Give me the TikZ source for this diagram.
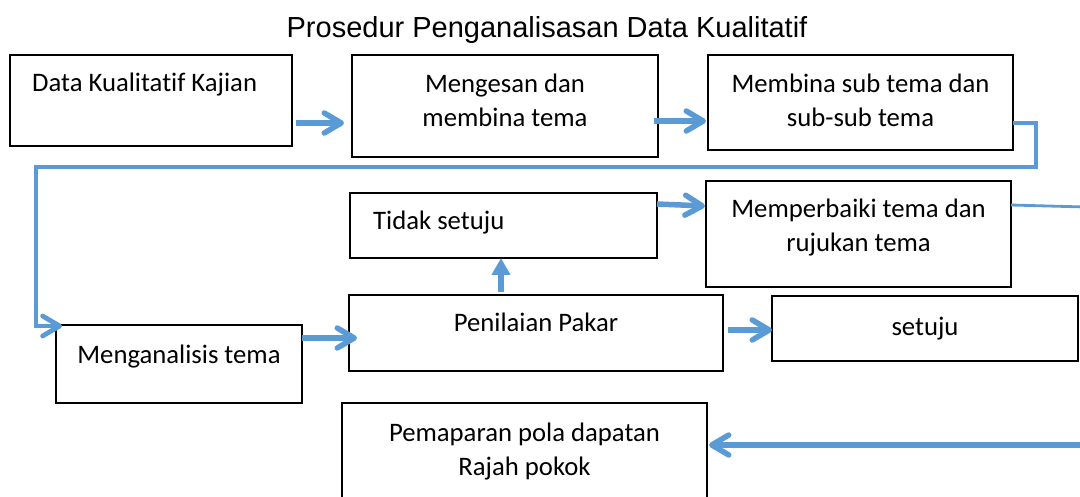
\documentclass[tikz,border=0pt]{standalone}
\usepackage{fontspec}
\setmainfont{Carlito}[Ligatures=NoCommon]
\newfontfamily\titlefont{Liberation Sans}
\usetikzlibrary{arrows.meta}
\definecolor{flowblue}{RGB}{91,155,213}
\tikzset{
  box/.style={draw, line width=1.6pt, anchor=north west, inner sep=0pt, outer sep=0pt},
  txt/.style={font=\fontsize{26.7}{34}\selectfont, inner sep=0pt, align=center},
  flow/.style={flowblue, line width=5.5pt, -{Straight Barb[length=17pt,width=20pt,round]}},
  longflow/.style={flowblue, line width=4.8pt, -{Straight Barb[length=17pt,width=20pt,round]}},
  upflow/.style={flowblue, line width=6pt, -{Triangle[length=17pt,width=18pt]}},
  thinflow/.style={flowblue, line width=2.8pt},
}
\begin{document}
\begin{tikzpicture}[x=1pt,y=-1pt]
        \clip (0,0) rectangle (1080,497);
        % Title
        \node (title) at (547,38) [anchor=base, inner sep=0pt, font=\titlefont\fontsize{29}{34}\selectfont] {Prosedur Penganalisasan Data Kualitatif};
        % Boxes (top row)
        \node (data) at (10,55) [box, minimum width=282, minimum height=91,
          label={[txt, anchor=north west, xshift=22pt, yshift=-18pt]north west:Data Kualitatif Kajian}] {};
        \node (kesan) at (352,55) [box, minimum width=306, minimum height=102,
          label={[txt, anchor=north, yshift=-19pt]north:Mengesan dan\\membina tema}] {};
        \node (subtema) at (708,55) [box, minimum width=305, minimum height=95,
          label={[txt, anchor=north, yshift=-19pt]north:Membina sub tema dan\\sub-sub tema}] {};
        % Boxes (middle)
        \node (tidak) at (350,193) [box, minimum width=307, minimum height=65,
          label={[txt, anchor=north west, xshift=23pt, yshift=-18pt]north west:Tidak setuju}] {};
        \node (baiki) at (706,181) [box, minimum width=305, minimum height=106,
          label={[txt, anchor=north, yshift=-18pt]north:Memperbaiki tema dan\\rujukan tema}] {};
        \node (analisis) at (56,325) [box, minimum width=246, minimum height=78,
          label={[txt, anchor=north, yshift=-20pt]north:Menganalisis tema}] {};
        \node (pakar) at (349,295) [box, minimum width=374, minimum height=76,
          label={[txt, anchor=north, yshift=-18pt]north:Penilaian Pakar}] {};
        \node (setuju) at (772,296) [box, minimum width=306, minimum height=65,
          label={[txt, anchor=north, yshift=-21pt]north:setuju}] {};
        % Box (bottom)
        \node (papar) at (342,403) [box, minimum width=365, minimum height=110,
          label={[txt, anchor=north, yshift=-20pt]north:Pemaparan pola dapatan\\Rajah pokok}] {};
        % Free ends and turns
        \coordinate (turn_r) at (1036,167);
        \coordinate (turn_l) at (36,167);
        \coordinate (out_r) at (1085,207);
        \coordinate (in_r) at (1085,445);
        % Connectors
        \draw[flow] ([xshift=4pt,yshift=-22.5pt]data.east) -- ([xshift=-8pt,yshift=-17pt]kesan.west);
        \draw[flow] ([xshift=-4pt,yshift=-15pt]kesan.east) -- ([xshift=-2pt,yshift=-18.5pt]subtema.west);
        \draw[longflow] ([yshift=-20.5pt]subtema.east) -| (turn_r) -- (turn_l) |- ([xshift=6pt,yshift=-1pt]analisis.north west);
        \draw[flow] ([yshift=26pt]analisis.east) -- ([xshift=8pt,yshift=-5pt]pakar.west);
        \draw[flow] ([xshift=5pt,yshift=3pt]pakar.east) -- ([yshift=-1.5pt]setuju.west);
        \draw[upflow] ([xshift=-35pt,yshift=3pt]pakar.north) -- ([xshift=-35pt]pakar.north |- tidak.south);
        \draw[flow] ([yshift=21.5pt]tidak.east) -- ([xshift=-1pt,yshift=28pt]baiki.west);
        \draw[thinflow] ([yshift=29pt]baiki.east) -- (out_r);
        \draw[flow] (in_r) -- ([xshift=2pt,yshift=13pt]papar.east);
      \end{tikzpicture}
\end{document}
